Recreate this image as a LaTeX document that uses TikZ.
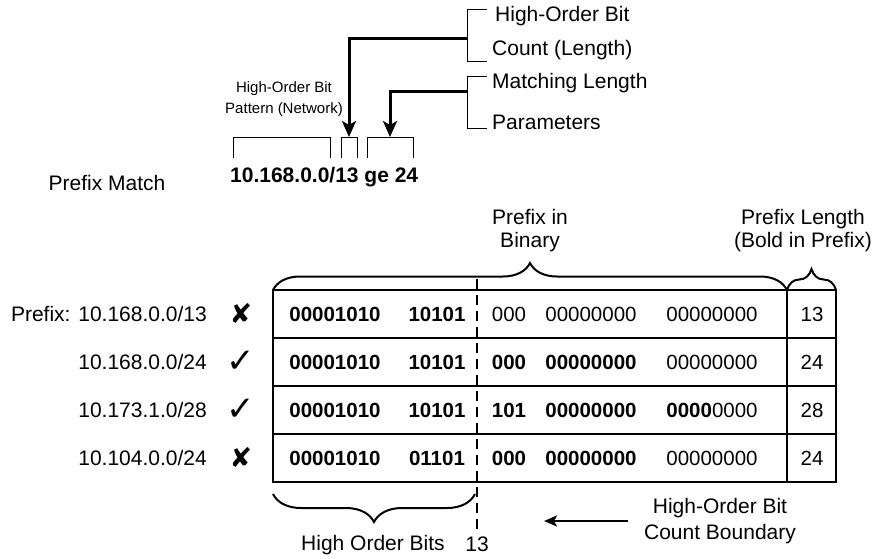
\documentclass[tikz,border=0pt]{standalone}
\usepackage{fontspec}
\setmainfont{Liberation Sans}
\newfontfamily\symfont{DejaVu Sans}
\usetikzlibrary{arrows.meta,decorations.pathreplacing}

\tikzset{
  lbl/.style={font=\fontsize{21}{26}\selectfont, inner sep=0pt, align=center},
  smalllbl/.style={font=\fontsize{15}{21}\selectfont, inner sep=0pt, align=center},
  cell/.style={font=\fontsize{20.5}{24}\selectfont, inner sep=0pt},
  bigarrow/.style={line width=3pt, -{Stealth[length=16pt,width=14pt,inset=4pt]}},
  smallarrow/.style={line width=2.5pt, -{Stealth[length=13pt,width=11pt,inset=3pt]}},
  thinbrk/.style={line width=0.9pt},
  bracebar/.style={line width=2pt, decorate, decoration={brace, amplitude=#1}},
  tabline/.style={line width=1.3pt},
  dashline/.style={line width=2pt, dash pattern=on 10pt off 6pt}
}

\begin{document}
\begin{tikzpicture}[x=1pt, y=-1pt]
  \useasboundingbox (0,0) rectangle (875,558);

  % Prefix match statement
  \node[lbl, anchor=west, font=\fontsize{21}{26}\selectfont\bfseries] (stmt) at (230,177) {10.168.0.0/13 ge 24};
  \node[lbl] (match) at (107,183) {Prefix Match};
  \node[smalllbl] (pattern) at (284,99) {High-Order Bit\\Pattern (Network)};

  % small brackets above the statement
  \draw[thinbrk] (233,158) -- (233,137) -- (330,137) -- (330,158);
  \draw[thinbrk] (341,158) -- (341,137) -- (357,137) -- (357,158);
  \draw[thinbrk] (367,158) -- (367,137) -- (413,137) -- (413,158);
  \coordinate (lenTop) at (349,137);
  \coordinate (geTop) at (390,137);

  % bracket labels top right
  \draw[thinbrk] (487,9) -- (467,9) -- (467,61) -- (487,61);
  \draw[thinbrk] (487,76) -- (467,76) -- (467,128) -- (487,128);
  \coordinate (hobBrk) at (467,38);
  \coordinate (mlBrk) at (467,91);
  \node[lbl, anchor=west] (hob) at (495,16) {High-Order Bit};
  \node[lbl, anchor=west] (cnt) at (492,50) {Count (Length)};
  \node[lbl, anchor=west] (mlen) at (492,83) {Matching Length};
  \node[lbl, anchor=west] (params) at (492,122) {Parameters};
  \draw[bigarrow] (hobBrk) -| (lenTop);
  \draw[bigarrow] (mlBrk) -| (geTop);

  % Table of prefixes
  \draw[tabline] (273,290) rectangle (836,482);
  \draw[tabline] (787,290) -- (787,482);
  \foreach \y in {338,386,434} {
    \draw[tabline] (273,\y) -- (836,\y);
  }
  \foreach \i/\y/\pfx/\sym/\a/\b/\c/\d/\e/\len in {
      1/314/{Prefix: 10.168.0.0/13}/{\fontsize{27}{28}\selectfont ✘}/00001010/10101/000/00000000/00000000/13,
      2/362/{10.168.0.0/24}/{\fontsize{34}{36}\selectfont ✓}/00001010/10101/\textbf{000}/\textbf{00000000}/00000000/24,
      3/410/{10.173.1.0/28}/{\fontsize{34}{36}\selectfont ✓}/00001010/10101/\textbf{101}/\textbf{00000000}/{\textbf{0000}0000}/28,
      4/458/{10.104.0.0/24}/{\fontsize{27}{28}\selectfont ✘}/00001010/01101/\textbf{000}/\textbf{00000000}/00000000/24} {
    \node[lbl, anchor=east] (pfx\i) at (207,\y) {\pfx};
    \node[inner sep=0pt, font=\symfont] (sym\i) at (241,\y) {\sym};
    \node[cell, font=\fontsize{20.5}{24}\selectfont\bfseries] (oct\i) at (335,\y) {\a};
    \node[cell, font=\fontsize{20.5}{24}\selectfont\bfseries] (hi\i) at (437,\y) {\b};
    \node[cell] (lo\i) at (509,\y) {\c};
    \node[cell] (third\i) at (591,\y) {\d};
    \node[cell] (fourth\i) at (712,\y) {\e};
    \node[cell] (len\i) at (812,\y) {\len};
  }

  % braces and headers
  \draw[bracebar=27pt] (273,290) -- (787,290);
  \draw[bracebar=21pt] (787,290) -- (836,290);
  \draw[bracebar=28pt] (475,494) -- (273,494);
  \node[lbl, font=\fontsize{21}{23}\selectfont] (binary) at (530,231) {Prefix in\\Binary};
  \node[lbl, font=\fontsize{21}{23}\selectfont] (plen) at (803,231) {Prefix Length\\(Bold in Prefix)};
  \node[lbl] (hobits) at (373,545) {High Order Bits};

  % count boundary
  \coordinate (bndTop) at (477,279);
  \coordinate (bndBot) at (477,530);
  \draw[dashline] (bndTop) -- (bndBot);
  \node[lbl] (thirteen) at (477,544) {13};
  \node[lbl] (bndText) at (720,521) {High-Order Bit\\Count Boundary};
  \coordinate (arrTail) at (628,521);
  \coordinate (arrHead) at (544,521);
  \draw[smallarrow] (arrTail) -- (arrHead);
\end{tikzpicture}
\end{document}
